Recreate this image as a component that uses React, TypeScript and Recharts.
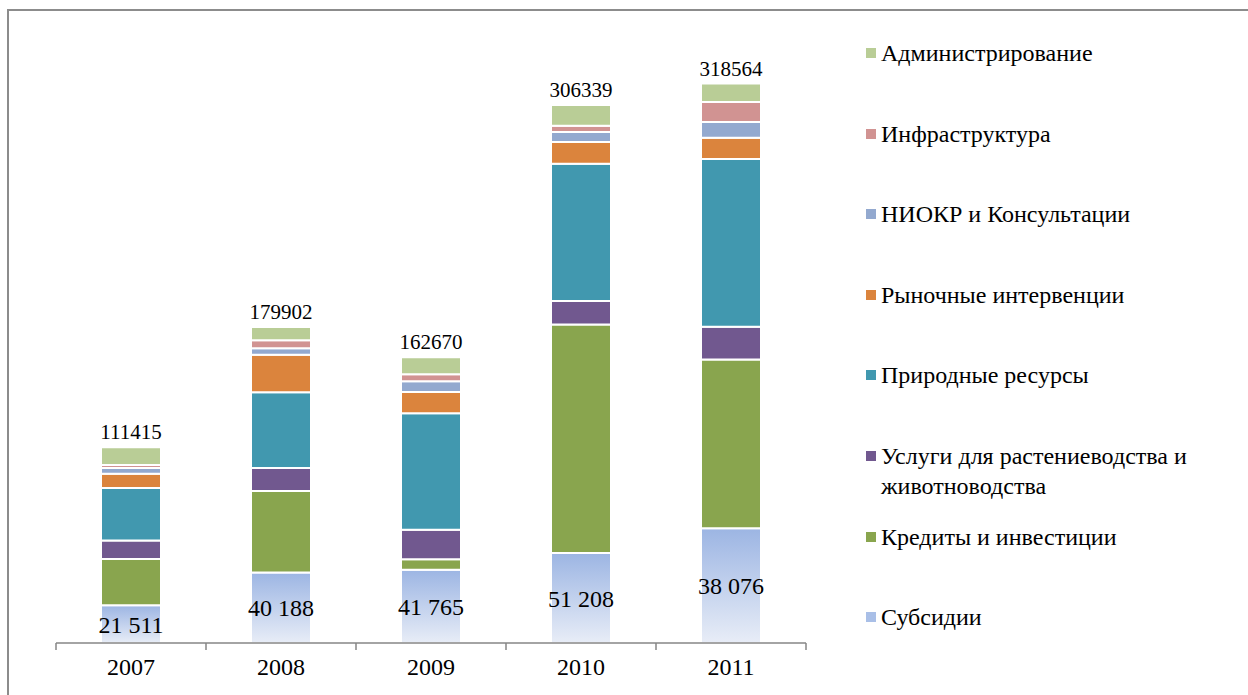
import { Bar, BarChart, LabelList, XAxis, YAxis } from "recharts";

const years = ["2007", "2008", "2009", "2010", "2011"];
const totals = [111415, 179902, 162670, 306339, 318564];
const subsidyLabels = ["21 511", "40 188", "41 765", "51 208", "38 076"];

const subsidies = [21511, 40188, 41765, 51208, 65300];
const credits = [26344, 46300, 5960, 130151, 96100];
const services = [10460, 13220, 16800, 13370, 18660];
const nature = [30000, 43100, 66300, 78140, 95544];
const market = [8000, 21340, 12140, 12410, 12120];
const research = [3400, 3630, 6130, 5630, 8990];
const infra = [1700, 4540, 3860, 3590, 11320];
const admin = [10000, 7584, 9715, 11840, 10530];

const SERIES = [
  { key: "subsidies", name: "Субсидии", values: subsidies, fill: "url(#subsGrad)", swatch: "#a9bfe7" },
  { key: "credits", name: "Кредиты и инвестиции", values: credits, fill: "#89a54e", swatch: "#89a54e" },
  { key: "services", name: "Услуги для растениеводства и животноводства", values: services, fill: "#71588f", swatch: "#71588f" },
  { key: "nature", name: "Природные ресурсы", values: nature, fill: "#4198af", swatch: "#4198af" },
  { key: "market", name: "Рыночные интервенции", values: market, fill: "#db843d", swatch: "#db843d" },
  { key: "research", name: "НИОКР и Консультации", values: research, fill: "#93a9cf", swatch: "#93a9cf" },
  { key: "infra", name: "Инфраструктура", values: infra, fill: "#d19392", swatch: "#d19392" },
  { key: "admin", name: "Администрирование", values: admin, fill: "#b9cd96", swatch: "#b9cd96" },
];

const FONT = '"Liberation Serif", "Times New Roman", serif';
const AXIS_COLOR = "#868686";
const TICK_SIZE = 7;
const TICK_MARGIN = 8;

const data = years.map((year, i) => {
  const row: Record<string, string | number> = {
    year,
    total: totals[i],
    subsLabel: subsidyLabels[i],
  };
  SERIES.forEach((s) => {
    row[s.key] = s.values[i];
  });
  return row;
});

// year label plus tick marks on the category borders (Excel style)
function YearTick(props: any) {
  const { x, y, payload, index, visibleTicksCount } = props;
  const half = payload.offset ?? 0;
  const axisY = y - TICK_SIZE - TICK_MARGIN;
  return (
    <g>
      <line x1={x - half} x2={x - half} y1={axisY} y2={axisY + TICK_SIZE} stroke={AXIS_COLOR} strokeWidth={1.5} />
      {index === visibleTicksCount - 1 && (
        <line x1={x + half} x2={x + half} y1={axisY} y2={axisY + TICK_SIZE} stroke={AXIS_COLOR} strokeWidth={1.5} />
      )}
      <text x={x} y={y} dy="0.71em" textAnchor="middle" fill="#000" fontSize={24} fontFamily={FONT}>
        {payload.value}
      </text>
    </g>
  );
}

function ChartLegend() {
  return (
    <div
      style={{
        position: "absolute",
        left: 866,
        top: 38,
        fontFamily: FONT,
        fontSize: 24,
        color: "#000",
      }}
    >
      {[...SERIES].reverse().map((s) => (
        <div key={s.key} style={{ display: "flex", alignItems: "flex-start", height: 80.6 }}>
          <span
            style={{
              display: "inline-block",
              width: 10,
              height: 10,
              background: s.swatch,
              marginTop: 10,
              marginRight: 5,
              flex: "none",
            }}
          />
          <span style={{ width: 330, lineHeight: "30px", marginTop: 0 }}>{s.name}</span>
        </div>
      ))}
    </div>
  );
}

export default function App() {
  return (
    <div
      style={{
        position: "absolute",
        left: 0,
        top: 0,
        width: 1248,
        height: 695,
        overflow: "hidden",
        background: "#fff",
      }}
    >
      <div
        style={{
          position: "absolute",
          left: 7,
          top: 9,
          width: 1400,
          height: 800,
          border: "2px solid #8c8c8c",
        }}
      />
      <BarChart
        width={1248}
        height={695}
        data={data}
        margin={{ top: 81, right: 442, bottom: 22, left: 56 }}
        style={{ position: "absolute", left: 0, top: 0 }}
      >
        <defs>
          <linearGradient id="subsGrad" x1="0" y1="0" x2="0" y2="1">
            <stop offset="0%" stopColor="#9cb5e3" />
            <stop offset="100%" stopColor="#e8edf7" />
          </linearGradient>
        </defs>
        <XAxis
          dataKey="year"
          height={30}
          stroke={AXIS_COLOR}
          strokeWidth={1.5}
          tickLine={false}
          tickSize={TICK_SIZE}
          tickMargin={TICK_MARGIN}
          tick={<YearTick />}
        />
        <YAxis hide domain={[0, 320000]} />
        {SERIES.map((s) => (
          <Bar
            key={s.key}
            dataKey={s.key}
            name={s.name}
            stackId="a"
            fill={s.fill}
            stroke="#ffffff"
            strokeWidth={2}
            barSize={60}
            isAnimationActive={false}
          >
            {s.key === "subsidies" && (
              <LabelList
                dataKey="subsLabel"
                position="center"
                fill="#000"
                fontSize={24}
                fontFamily={FONT}
              />
            )}
            {s.key === "admin" && (
              <LabelList
                dataKey="total"
                position="top"
                offset={8}
                fill="#000"
                fontSize={21}
                fontFamily={FONT}
              />
            )}
          </Bar>
        ))}
      </BarChart>
      <ChartLegend />
    </div>
  );
}
